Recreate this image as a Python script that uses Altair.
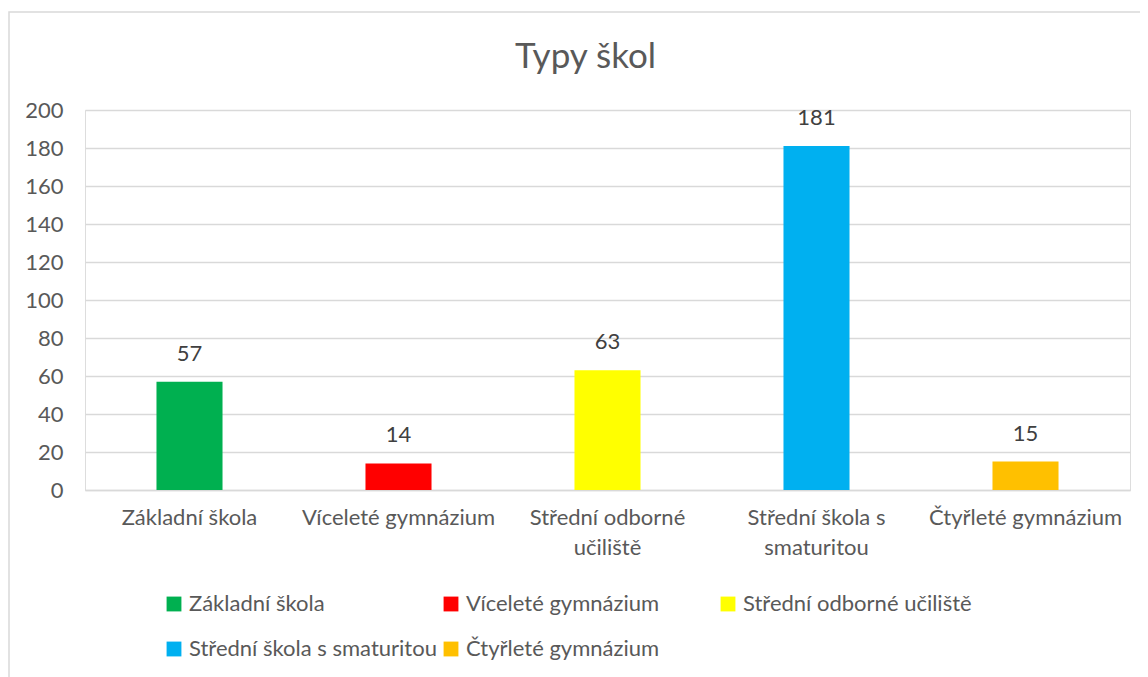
import altair as alt
import pandas as pd

categories = ["Základní škola", "Víceleté gymnázium", "Střední odborné učiliště",
              "Střední škola s smaturitou", "Čtyřleté gymnázium"]
values = [57, 14, 63, 181, 15]
colors = ["#00B050", "#FF0000", "#FFFF00", "#00B0F0", "#FFC000"]
y_ticks = [0, 20, 40, 60, 80, 100, 120, 140, 160, 180, 200]

df = pd.DataFrame({"typ": categories, "pocet": values})

FONT = "Lato"
GREY = "#595959"
FS = 22

label_expr = (
    "datum.label == 'Střední odborné učiliště' ? ['Střední odborné', 'učiliště'] : "
    "datum.label == 'Střední škola s smaturitou' ? ['Střední škola s', 'smaturitou'] : datum.label"
)

x_enc = alt.X("typ:N", sort=categories, title=None,
              scale=alt.Scale(paddingInner=0.684, paddingOuter=0.342),
              axis=alt.Axis(labelExpr=label_expr, labelAngle=0, labelFontSize=FS,
                            labelColor=GREY, labelFont=FONT, labelPadding=17,
                            labelLineHeight=30, ticks=False, domainColor="#D9D9D9",
                            domainWidth=1.5, labelOverlap=False, labelLimit=400))
y_enc = alt.Y("pocet:Q", title=None,
              scale=alt.Scale(domain=[0, 200], nice=False),
              axis=alt.Axis(values=y_ticks, labelFontSize=FS, labelColor=GREY,
                            labelFont=FONT, labelPadding=22, ticks=False, domain=False,
                            gridColor="#D9D9D9", gridWidth=1.5, labelOverlap=False))

frame = alt.Chart(pd.DataFrame({"a": [0]})).mark_rect(
    fill=None, stroke="#D9D9D9", strokeWidth=1.5
).encode(x=alt.value(-76), x2=alt.value(1100), y=alt.value(-98), y2=alt.value(700))

bars = alt.Chart(df).mark_bar().encode(
    x=x_enc,
    y=y_enc,
    color=alt.Color("typ:N", sort=categories,
                    scale=alt.Scale(domain=categories, range=colors),
                    legend=alt.Legend(title=None, orient="none", legendX=78, legendY=483,
                                      direction="horizontal", columns=3, gridAlign="all",
                                      symbolType="square", symbolSize=220,
                                      symbolStrokeWidth=0, labelFontSize=FS,
                                      labelColor=GREY, labelFont=FONT, columnPadding=3,
                                      rowPadding=23, labelOffset=4, padding=0,
                                      labelLimit=400)),
)

texts = alt.Chart(df).mark_text(dy=-16, fontSize=FS, color="#404040", font=FONT,
                                baseline="bottom").encode(
    x=x_enc,
    y=y_enc,
    text="pocet:Q",
)

chart = alt.layer(frame, bars, texts).properties(
    width=1045, height=380,
    title=alt.TitleParams("Typy škol", fontSize=35, font=FONT, color=GREY,
                          fontWeight="normal", anchor="middle", offset=-64, dx=-22),
    autosize=alt.AutoSizeParams(type="none"),
    padding={"left": 77, "top": 102, "right": 10, "bottom": 187},
).configure_view(stroke=None).configure(background="white")

chart.save("out.html", embed_options={"renderer": "svg", "actions": False})
